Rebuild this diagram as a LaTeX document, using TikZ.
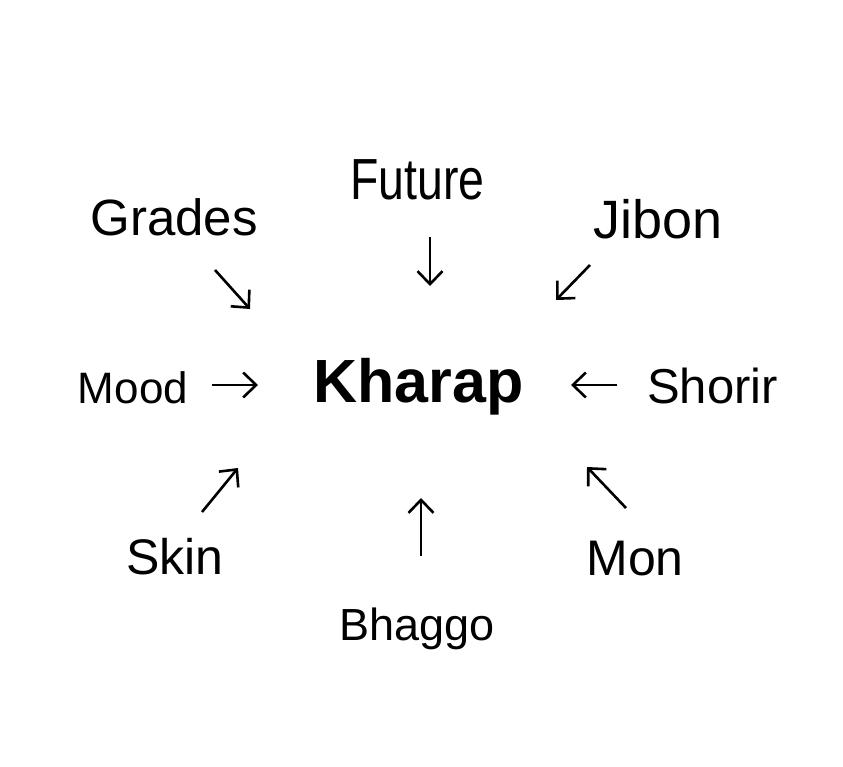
\documentclass[tikz,border=0pt]{standalone}
\usepackage{fontspec}
\setmainfont{Liberation Sans}
\newfontfamily\narrowsans[FakeStretch=0.8]{Liberation Sans}
\usetikzlibrary{arrows.meta}

\newcommand{\fsz}[1]{\fontsize{#1}{#1}\selectfont}

\begin{document}
\begin{tikzpicture}[x=1pt, y=-1pt, >={Straight Barb[length=13pt,width=25pt]},
    word/.style={inner sep=0pt, anchor=base},
    pointer/.style={->, line width=2.6pt}]
  \useasboundingbox[fill=white] (0,0) rectangle (843,766);
  % centre word
  \node[word, font=\bfseries\fsz{61}] (kharap) at (418.5,402) {Kharap};
  % words around it
  \node[word, font=\narrowsans\fsz{58}] (future) at (417.5,199) {Future};
  \node[word, font=\fsz{51}] (grades) at (174,235) {Grades};
  \node[word, font=\fsz{54}] (jibon) at (658.5,238) {Jibon};
  \node[word, font=\fsz{44}] (mood) at (133,403) {Mood};
  \node[word, font=\fsz{49}] (shorir) at (712.5,403) {Shorir};
  \node[word, font=\fsz{50}] (skin) at (175,574) {Skin};
  \node[word, font=\fsz{50}] (mon) at (635,575) {Mon};
  \node[word, font=\fsz{45}] (bhaggo) at (417,640) {Bhaggo};
  % arrow ends
  \coordinate (gradesA) at (215,270);  \coordinate (gradesB) at (250,309);
  \coordinate (futureA) at (430,237);  \coordinate (futureB) at (430,286);
  \coordinate (jibonA) at (590,265);   \coordinate (jibonB) at (556,300);
  \coordinate (moodA) at (212,385);    \coordinate (moodB) at (258,385);
  \coordinate (shorirA) at (617,385);  \coordinate (shorirB) at (571,385);
  \coordinate (skinA) at (202,512);    \coordinate (skinB) at (238,468);
  \coordinate (bhaggoA) at (421,556);  \coordinate (bhaggoB) at (421,498);
  \coordinate (monA) at (626,508);     \coordinate (monB) at (587,467);
  \foreach \w in {grades,future,jibon,mood,shorir,skin,bhaggo,mon} {
    \draw[pointer] (\w A) -- (\w B);
  }
\end{tikzpicture}
\end{document}
